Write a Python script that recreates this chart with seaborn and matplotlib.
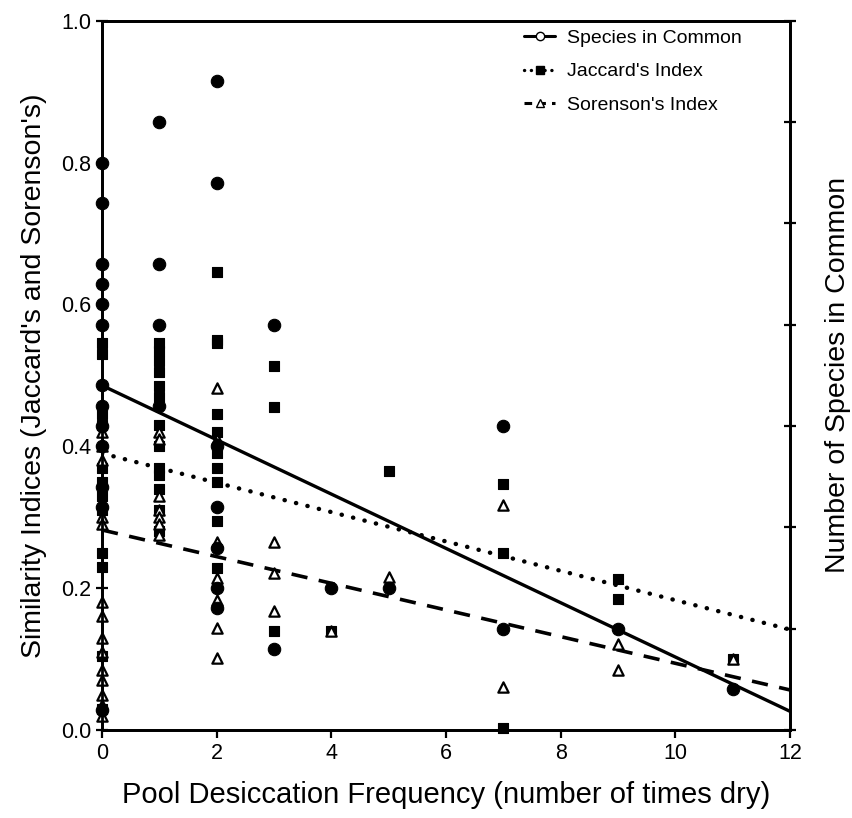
import numpy as np
import pandas as pd
import matplotlib
matplotlib.use("Agg")
import matplotlib.pyplot as plt
import seaborn as sns
from matplotlib.lines import Line2D

sns.set_theme(style="ticks")
plt.rcParams['font.family'] = ['Liberation Sans', 'DejaVu Sans']
plt.rcParams['text.color'] = 'black'
plt.rcParams['axes.labelcolor'] = 'black'
plt.rcParams['xtick.color'] = 'black'
plt.rcParams['ytick.color'] = 'black'

# ---------------- data ----------------
# Species in common (right axis, count)
species_x = [0]*13 + [1]*4 + [2]*7 + [3]*2 + [4, 5] + [7]*2 + [9, 11]
species_n = [28, 26, 23, 22, 21, 20, 17, 16, 15, 14, 12, 11, 1,
             30, 23, 20, 16,
             32, 27, 14, 11, 9, 7, 6,
             20, 4,
             7, 7,
             15, 5,
             5, 2]

# Jaccard's index (left axis)
jaccard_x = [0]*12 + [1]*13 + [2]*10 + [3]*3 + [4, 5] + [7]*3 + [9]*2 + [11]
jaccard_v = [0.545, 0.53, 0.445, 0.43, 0.37, 0.35, 0.33, 0.31, 0.25, 0.23, 0.105, 0.03,
             0.545, 0.535, 0.52, 0.505, 0.485, 0.47, 0.43, 0.40, 0.37, 0.36, 0.34, 0.31, 0.28,
             0.645, 0.55, 0.545, 0.445, 0.42, 0.39, 0.37, 0.35, 0.295, 0.228,
             0.513, 0.455, 0.14,
             0.14, 0.365,
             0.347, 0.25, 0.003,
             0.213, 0.185,
             0.10]

# Sorenson's index (left axis)
sorenson_x = [0]*15 + [1]*7 + [2]*7 + [3]*3 + [4, 5] + [7]*2 + [9]*2 + [11]
sorenson_v = [0.42, 0.40, 0.38, 0.32, 0.30, 0.29, 0.18, 0.16, 0.13, 0.11, 0.085, 0.07, 0.05, 0.035, 0.02,
              0.42, 0.41, 0.33, 0.31, 0.30, 0.29, 0.275,
              0.482, 0.41, 0.265, 0.214, 0.183, 0.144, 0.101,
              0.265, 0.222, 0.168,
              0.14, 0.215,
              0.317, 0.061,
              0.121, 0.085,
              0.10]

# regression fits: (intercept, slope)
species_fit = (17.0, -1.34)
jaccard_fit = (0.39, -0.0207)
sorenson_fit = (0.282, -0.0188)
fit_range = [0, 12]

left_ticks = [0.0, 0.2, 0.4, 0.6, 0.8, 1.0]
x_ticks = [0, 2, 4, 6, 8, 10, 12]
right_ticks = [0, 5, 10, 15, 20, 25, 30, 35]

# ---------------- frames ----------------
df_sp = pd.DataFrame({"x": species_x, "y": species_n})
df_j = pd.DataFrame({"x": jaccard_x, "y": jaccard_v})
df_s = pd.DataFrame({"x": sorenson_x, "y": sorenson_v})
fx = np.array(fit_range, dtype=float)
df_fit = pd.DataFrame({
    "x": fx,
    "sp": species_fit[0] + species_fit[1] * fx,
    "j": jaccard_fit[0] + jaccard_fit[1] * fx,
    "s": sorenson_fit[0] + sorenson_fit[1] * fx,
})

# ---------------- figure ----------------
fig = plt.figure(figsize=(8.53, 8.18), dpi=100)
ax = fig.add_axes([0.1196, 0.1076, 0.8066, 0.8671])
ax2 = ax.twinx()

# lines
sns.lineplot(data=df_fit, x="x", y="j", ax=ax, color="black", lw=3.2,
             linestyle=(0, (0.05, 2.6)), solid_capstyle="round",
             dash_capstyle="round", legend=False)
sns.lineplot(data=df_fit, x="x", y="s", ax=ax, color="black", lw=2.6,
             linestyle=(0, (4.5, 3.2)), legend=False)
sns.lineplot(data=df_fit, x="x", y="sp", ax=ax2, color="black", lw=2.4,
             linestyle="-", legend=False)

# points
sns.scatterplot(data=df_j, x="x", y="y", ax=ax, marker="s", s=62,
                color="black", edgecolor="black", linewidth=0.8, zorder=3,
                clip_on=False)
sns.scatterplot(data=df_s, x="x", y="y", ax=ax, marker="^", s=55,
                facecolor="white", edgecolor="black", linewidth=1.6, zorder=4,
                clip_on=False)
sns.scatterplot(data=df_sp, x="x", y="y", ax=ax2, marker="o", s=80,
                color="black", edgecolor="black", linewidth=0.8, zorder=5,
                clip_on=False)

# axes
ax.set_xlim(0, 12)
ax.set_ylim(0, 1.0)
ax2.set_ylim(0, 35)
ax.set_xticks(x_ticks)
ax.set_yticks(left_ticks)
ax.set_xticklabels([str(t) for t in x_ticks])
ax.set_yticklabels([f"{t:.1f}" for t in left_ticks])
ax2.set_yticks(right_ticks)
ax2.set_yticklabels([])

for a in (ax, ax2):
    for sp in a.spines.values():
        sp.set_visible(True)
        sp.set_linewidth(2.0)
        sp.set_color("black")

ax.tick_params(axis="both", labelsize=15.5, width=1.6, length=6,
               direction="out", color="black", labelcolor="black")
ax.tick_params(axis="y", direction="inout", length=8)
ax2.tick_params(axis="y", direction="inout", length=8, width=1.6)

ax.set_xlabel("Pool Desiccation Frequency (number of times dry)",
              fontsize=21, labelpad=12)
ax.set_ylabel("Similarity Indices (Jaccard's and Sorenson's)",
              fontsize=20.5, labelpad=10)
ax2.set_ylabel("Number of Species in Common", fontsize=20.5,
               rotation=90, labelpad=18)
ax2.yaxis.set_label_position("right")

# legend
handles = [
    Line2D([], [], color="black", lw=2.2, linestyle="-", marker="o",
           markersize=6, markerfacecolor="white", markeredgecolor="black"),
    Line2D([], [], color="black", lw=2.4, linestyle=(0, (0.05, 2.0)),
           dash_capstyle="round", marker="s", markersize=6,
           markerfacecolor="black", markeredgecolor="black"),
    Line2D([], [], color="black", lw=2.2, linestyle=(0, (2.5, 2)),
           marker="^", markersize=6, markerfacecolor="white",
           markeredgecolor="black"),
]
labels = ["Species in Common", "Jaccard's Index", "Sorenson's Index"]
ax2.legend(handles, labels, loc="upper right", bbox_to_anchor=(0.955, 1.012),
           frameon=False, fontsize=14, handlelength=1.6, handletextpad=0.6,
           labelspacing=0.8)

fig.savefig("out.png", dpi=100)
